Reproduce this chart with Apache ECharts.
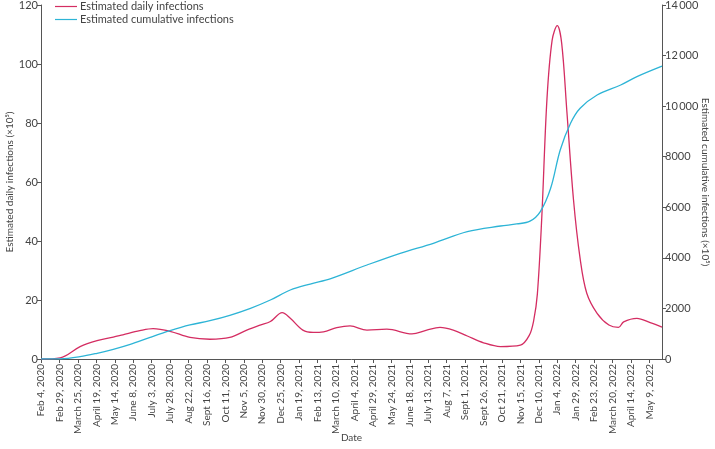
<!DOCTYPE html>
<html>
<head>
<meta charset="utf-8">
<script src="https://cdn.jsdelivr.net/npm/echarts@6/dist/echarts.min.js"></script>
<style>
html, body { margin: 0; padding: 0; background: #fff; }
#chart { width: 715px; height: 449px; }
</style>
</head>
<body>
<div id="chart"></div>
<script>
// days since Feb 4, 2020
var dailyDays = [0, 26, 53, 76, 98, 111, 134, 152, 175, 202, 229, 256, 279, 297, 311, 327, 338, 355, 369, 383, 401, 419, 442, 469, 503, 523, 541, 559, 578, 600, 623, 650, 662, 668, 673, 679, 686, 693, 700, 706, 713, 722, 731, 740, 754, 770, 783, 790, 808, 826, 842];
var dailyValues = [0, 0.4, 4.2, 6.2, 7.4, 8.2, 9.6, 10.3, 9.4, 7.3, 6.7, 7.3, 9.8, 11.5, 12.7, 15.7, 13.8, 9.8, 9.0, 9.2, 10.6, 11.2, 9.8, 10.1, 8.5, 9.8, 10.7, 9.8, 7.8, 5.5, 4.2, 4.7, 8.0, 13, 22, 48, 88, 108, 113, 107, 84, 54, 34, 22.3, 15.5, 11.5, 10.7, 12.6, 13.8, 12.3, 10.8];

var cumulativeDays = [0, 26, 53, 76, 98, 121, 148, 175, 202, 229, 256, 284, 311, 338, 365, 393, 442, 487, 532, 578, 623, 645, 663, 677, 691, 704, 718, 731, 754, 786, 808, 842];
var cumulativeValues = [0, 5, 90, 225, 383, 580, 858, 1120, 1345, 1515, 1728, 2005, 2333, 2729, 2966, 3180, 3717, 4180, 4576, 5035, 5260, 5340, 5450, 5830, 6750, 8266, 9322, 9915, 10441, 10837, 11165, 11580];

var monthNames = ['Jan', 'Feb', 'March', 'April', 'May', 'June', 'July', 'Aug', 'Sept', 'Oct', 'Nov', 'Dec'];
var tickDays = [];
for (var t = 0; t <= 825; t += 25) tickDays.push(t);

function dayLabel(d) {
    var dt = new Date(Date.UTC(2020, 1, 4) + d * 86400000);
    return monthNames[dt.getUTCMonth()] + ' ' + dt.getUTCDate() + ', ' + dt.getUTCFullYear();
}
function pair(xs, ys) {
    return xs.map(function (x, i) { return [x, ys[i]]; });
}

var textColor = '#444';
var axisColor = '#555';
var font = 'Lato';

var myChart = echarts.init(document.getElementById('chart'));
var option = {
    backgroundColor: '#fff',
    animation: false,
    textStyle: { fontFamily: font },
    legend: {
        orient: 'vertical',
        left: 50,
        top: -4,
        itemGap: 2,
        itemWidth: 22,
        itemHeight: 10,
        icon: 'path://M0,4 L22,4 L22,5.2 L0,5.2 Z',
        textStyle: { color: textColor, fontSize: 11, fontFamily: font, padding: [0, 0, 0, -2] },
        data: ['Estimated daily infections', 'Estimated cumulative infections']
    },
    grid: { left: 41, right: 53, top: 5, bottom: 90, containLabel: false, outerBoundsMode: 'none' },
    xAxis: {
        type: 'value',
        min: 0,
        max: 842,
        name: 'Date',
        nameLocation: 'middle',
        nameGap: 74,
        nameMoveOverlap: false,
        nameTextStyle: { color: textColor, fontSize: 10, fontFamily: font },
        splitLine: { show: false },
        axisLine: { lineStyle: { color: axisColor, width: 1 } },
        axisTick: { show: true, customValues: tickDays, length: 4, lineStyle: { color: axisColor } },
        axisLabel: {
            customValues: tickDays,
            rotate: 90,
            color: textColor,
            fontSize: 10,
            fontFamily: font,
            margin: 5,
            formatter: function (v) { return dayLabel(v); }
        }
    },
    yAxis: [{
        type: 'value',
        min: 0,
        max: 120,
        interval: 20,
        name: 'Estimated daily infections (×10\u2075)',
        nameLocation: 'middle',
        nameGap: 26,
        nameMoveOverlap: false,
        nameTextStyle: { color: textColor, fontSize: 10, fontFamily: font },
        splitLine: { show: false },
        axisLine: { show: true, lineStyle: { color: axisColor } },
        axisTick: { show: true, length: 4, lineStyle: { color: axisColor } },
        axisLabel: { color: textColor, fontSize: 11, fontFamily: font, margin: 3 }
    }, {
        type: 'value',
        min: 0,
        max: 14000,
        interval: 2000,
        position: 'right',
        name: 'Estimated cumulative infections (×10\u2075)',
        nameLocation: 'middle',
        nameGap: 38,
        nameRotate: -90,
        nameMoveOverlap: false,
        nameTextStyle: { color: textColor, fontSize: 10, fontFamily: font },
        splitLine: { show: false },
        axisLine: { show: true, lineStyle: { color: axisColor } },
        axisTick: { show: true, length: 4, lineStyle: { color: axisColor } },
        axisLabel: {
            color: textColor, fontSize: 11, fontFamily: font, margin: 3,
            formatter: function (v) {
                var s = String(v);
                return v >= 10000 ? s.slice(0, 2) + '\u2009' + s.slice(2) : s;
            }
        }
    }],
    series: [{
        name: 'Estimated daily infections',
        type: 'line',
        yAxisIndex: 0,
        smooth: 0.35,
        symbol: 'none',
        lineStyle: { color: '#d42d62', width: 1.3 },
        itemStyle: { color: '#d42d62' },
        data: pair(dailyDays, dailyValues)
    }, {
        name: 'Estimated cumulative infections',
        type: 'line',
        yAxisIndex: 1,
        smooth: 0.35,
        symbol: 'none',
        lineStyle: { color: '#2db4d6', width: 1.3 },
        itemStyle: { color: '#2db4d6' },
        data: pair(cumulativeDays, cumulativeValues)
    }]
};
myChart.setOption(option);
</script>
</body>
</html>
